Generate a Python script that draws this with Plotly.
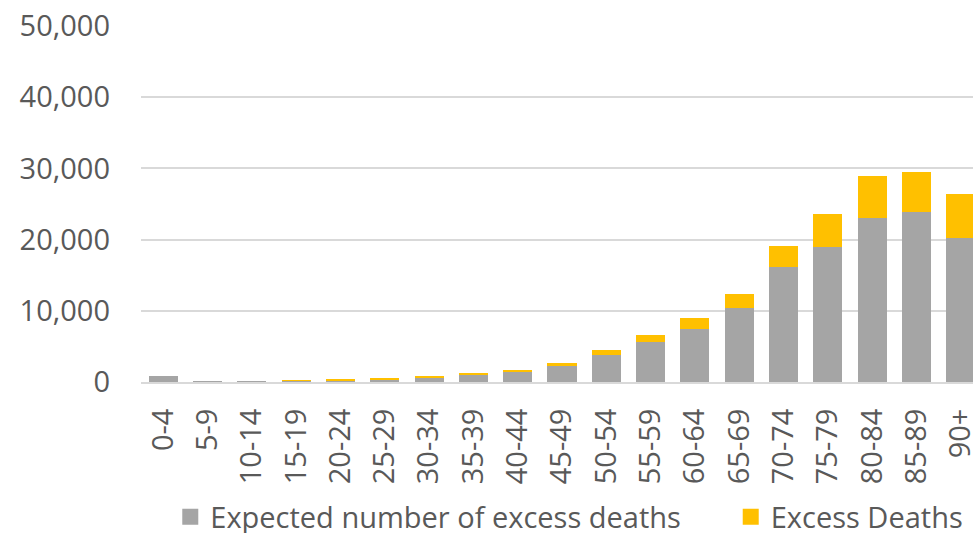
import plotly.graph_objects as go

age_groups = ["0-4", "5-9", "10-14", "15-19", "20-24", "25-29", "30-34", "35-39",
              "40-44", "45-49", "50-54", "55-59", "60-64", "65-69", "70-74", "75-79",
              "80-84", "85-89", "90+"]
expected = [800, 5, 5, 200, 240, 420, 610, 1030, 1540, 2290, 3840, 5660, 7390,
            10440, 16190, 19000, 22980, 23820, 20270]
excess = [0, 0, 0, 80, 140, 140, 140, 140, 150, 420, 650, 940, 1550,
          1960, 2900, 4540, 5990, 5620, 6080]

y_ticks = [0, 10000, 20000, 30000, 40000, 50000]
y_tick_text = ["0", "10,000", "20,000", "30,000", "40,000", "50,000"]

series_names = ["Expected number of excess deaths", "Excess Deaths"]
series_colors = ["#A5A5A5", "#FFC000"]
legend_ids = ["legend", "legend2"]

font_family = "Open Sans, Noto Sans, sans-serif"
text_color = "#595959"
grid_color = "#D9D9D9"

fig = go.Figure()
for vals, name, color, lg in zip([expected, excess], series_names, series_colors, legend_ids):
    fig.add_trace(go.Bar(
        x=age_groups, y=vals, name=name, showlegend=False,
        marker=dict(color=color, line=dict(width=0)),
    ))
    # square swatch for the legend
    fig.add_trace(go.Scatter(
        x=[None], y=[None], mode="markers", name=name, legend=lg,
        marker=dict(symbol="square", size=16, color=color),
    ))

legend_style = dict(
    orientation="h", xref="container", yref="container",
    y=0.03, xanchor="left", yanchor="middle",
    font=dict(size=29, color=text_color),
    itemsizing="trace", itemwidth=30, bgcolor="rgba(0,0,0,0)",
)

fig.update_layout(
    width=973, height=533,
    barmode="stack", bargap=0.345,
    plot_bgcolor="white", paper_bgcolor="white",
    margin=dict(l=141, r=0, t=26, b=151, autoexpand=False),
    font=dict(family=font_family, size=24, color=text_color),
    showlegend=True,
    legend=dict(x=0.175, **legend_style),
    legend2=dict(x=0.751, **legend_style),
    xaxis=dict(
        range=[-0.5, 18.274], tickangle=-90, showgrid=False,
        showline=True, linecolor=grid_color, linewidth=2,
        ticks="", ticklabelstandoff=13,
        tickfont=dict(size=29, color=text_color),
    ),
    yaxis=dict(
        range=[0, 50000], tickvals=y_ticks, ticktext=y_tick_text,
        showgrid=True, gridcolor=grid_color, gridwidth=2,
        zeroline=False, ticks="", ticklen=0, ticklabelstandoff=30,
        tickfont=dict(size=29, color=text_color),
    ),
)

fig.write_html("out.html")
